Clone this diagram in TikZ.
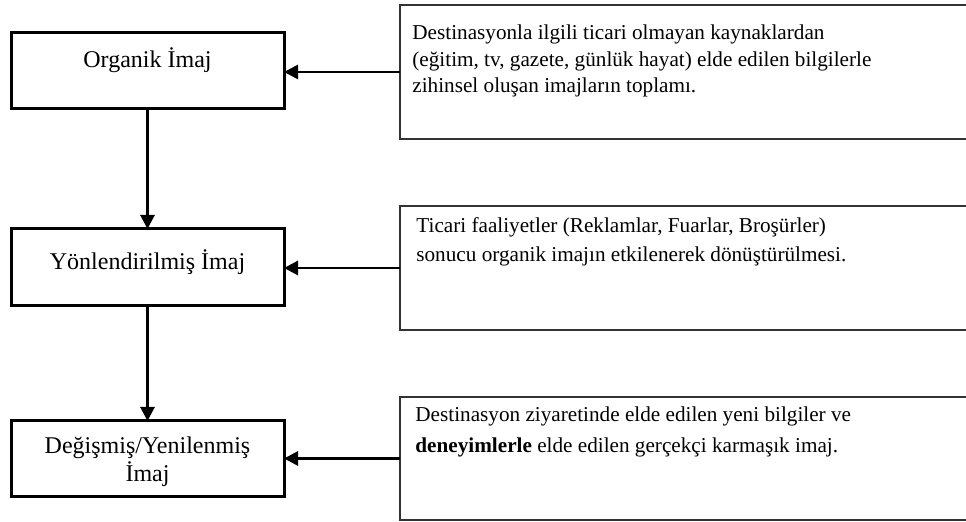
\documentclass[tikz,border=0pt]{standalone}
\usepackage{fontspec}
\setmainfont{Liberation Serif}
\usetikzlibrary{arrows.meta}
\begin{document}
\begin{tikzpicture}[x=0.5pt,y=-0.5pt,
  stagebox/.style={draw=black, line width=1.5pt, minimum width=136.5pt, inner sep=0pt, outer sep=0pt},
  notebox/.style={draw=black!80, line width=0.7pt, minimum width=290pt, inner sep=0pt, outer sep=0pt},
  flow/.style={line width=1.4pt, -{Triangle[length=7pt,width=7pt]}},
  stagetext/.style={font=\fontsize{12}{14}\selectfont, anchor=base, inner sep=0pt},
  notetext/.style={font=\fontsize{10.6}{13}\selectfont, anchor=base west, inner sep=0pt}]
\useasboundingbox (0,0) rectangle (966,522);
\fill[white] (0,0) rectangle (966,522);
\begin{scope}
\clip (0,0) rectangle (966,522);

% stages of the image
\node[stagebox, minimum height=38pt]   (B1) at (147.5,71)    {};
\node[stagebox, minimum height=38.5pt] (B2) at (147.5,267.5) {};
\node[stagebox, minimum height=38pt]   (B3) at (147.5,459)   {};

\node[stagetext] (t1)  at (147.5,68)  {Organik İmaj};
\node[stagetext] (t2)  at (147.5,270) {Yönlendirilmiş İmaj};
\node[stagetext] (t3a) at (147.5,454) {Değişmiş/Yenilenmiş};
\node[stagetext] (t3b) at (147.5,482) {İmaj};

% explanations
\node[notebox, minimum height=67pt]   (R1) at (690,72)    {};
\node[notebox, minimum height=62pt]   (R2) at (690,268)   {};
\node[notebox, minimum height=61.5pt] (R3) at (690,458.5) {};

\node[notetext] (n1a) at (412,40) {Destinasyonla ilgili ticari olmayan kaynaklardan};
\node[notetext] (n1b) at (412,67) {(eğitim, tv, gazete, günlük hayat) elde edilen bilgilerle};
\node[notetext] (n1c) at (412,93) {zihinsel oluşan imajların toplamı.};

\node[notetext] (n2a) at (416,233) {Ticari faaliyetler (Reklamlar, Fuarlar, Broşürler)};
\node[notetext] (n2b) at (416,262) {sonucu organik imajın etkilenerek dönüştürülmesi.};

\node[notetext] (n3a) at (415,422) {Destinasyon ziyaretinde elde edilen yeni bilgiler ve};
\node[notetext] (n3b) at (415,453) {\textbf{deneyimlerle} elde edilen gerçekçi karmaşık imaj.};

% connectors
\draw[flow] (B1.south) -- (B2.north);
\draw[flow] (B2.south) -- (B3.north);
\draw[flow] (R1.west) -- (R1.west -| B1.east);
\draw[flow] (R2.west) -- (R2.west -| B2.east);
\draw[flow] (R3.west) -- (R3.west -| B3.east);
\end{scope}
\end{tikzpicture}
\end{document}
